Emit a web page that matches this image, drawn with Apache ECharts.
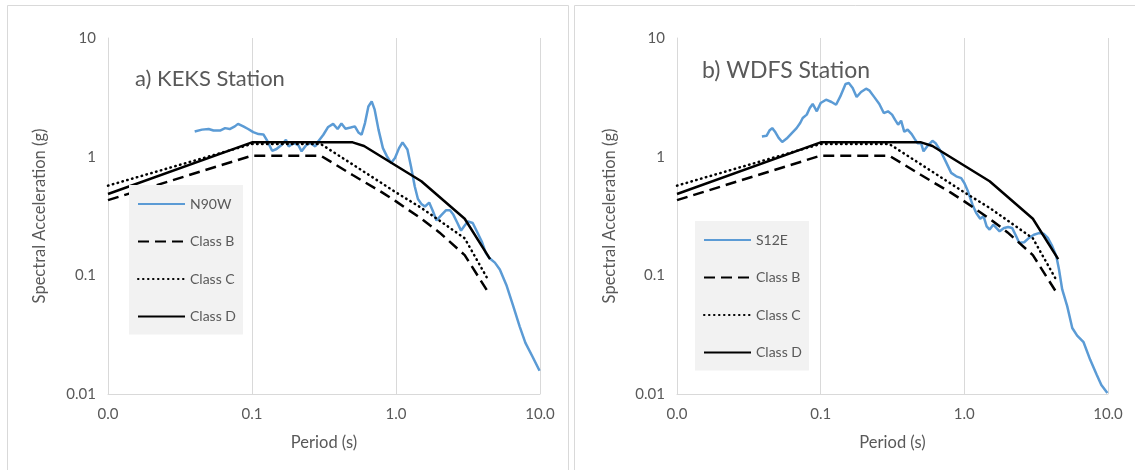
<!DOCTYPE html>
<html>
<head>
<meta charset="utf-8">
<script src="https://cdn.jsdelivr.net/npm/echarts@6/dist/echarts.min.js"></script>
<style>
html, body { margin: 0; padding: 0; background: #fff; }
#main { width: 1135px; height: 470px; }
</style>
</head>
<body>
<div id="main"></div>
<script>
var chart = echarts.init(document.getElementById('main'));

// design spectra (same for both stations)
var classBT = [0.01, 0.1, 0.3, 0.5, 0.8, 1.0, 1.5, 2.0, 3.0, 4.4];
var classBV = [0.43, 1.02, 1.02, 0.70, 0.50, 0.42, 0.30, 0.23, 0.148, 0.071];
var classCT = [0.01, 0.1, 0.3, 0.5, 1.0, 1.5, 2.0, 3.0, 4.4];
var classCV = [0.57, 1.28, 1.28, 0.86, 0.50, 0.37, 0.29, 0.205, 0.09];
var classDT = [0.01, 0.1, 0.5, 0.6, 1.5, 3.0, 4.5];
var classDV = [0.485, 1.32, 1.32, 1.23, 0.62, 0.30, 0.137];

// KEKS station, N90W record
var n90wT = [0.040, 0.045, 0.050, 0.054, 0.060, 0.065, 0.070, 0.076, 0.080, 0.087, 0.094,
    0.102, 0.111, 0.120, 0.128, 0.138, 0.148, 0.161, 0.172, 0.180, 0.193, 0.209, 0.221,
    0.239, 0.256, 0.275, 0.289, 0.313, 0.338, 0.366, 0.393, 0.418, 0.446, 0.484, 0.518,
    0.548, 0.577, 0.609, 0.643, 0.678, 0.711, 0.756, 0.811, 0.864, 0.925, 0.984, 1.05,
    1.11, 1.20, 1.27, 1.35, 1.42, 1.50, 1.59, 1.70, 1.80, 1.91, 2.08, 2.22, 2.37, 2.50,
    2.66, 2.83, 2.99, 3.16, 3.41, 3.64, 3.94, 4.21, 4.45, 4.86, 5.26, 5.84, 6.52, 7.23,
    7.92, 8.86, 9.93];
var n90wV = [1.63, 1.69, 1.71, 1.66, 1.66, 1.74, 1.71, 1.80, 1.89, 1.80, 1.71,
    1.61, 1.55, 1.54, 1.35, 1.12, 1.16, 1.26, 1.39, 1.22, 1.30, 1.26, 1.11,
    1.26, 1.30, 1.22, 1.35, 1.53, 1.78, 1.89, 1.71, 1.90, 1.72, 1.76, 1.80,
    1.60, 1.53, 1.92, 2.65, 2.92, 2.49, 1.69, 1.18, 1.01, 0.885, 0.975, 1.18,
    1.32, 1.15, 0.83, 0.56, 0.44, 0.40, 0.38, 0.41, 0.35, 0.29, 0.325, 0.353, 0.353, 0.325,
    0.279, 0.238, 0.262, 0.285, 0.276, 0.235, 0.193, 0.154, 0.140, 0.128, 0.112, 0.083, 0.055, 0.037,
    0.027, 0.0207, 0.0157];

// WDFS station, S12E record
var s12eT = [0.039, 0.042, 0.044, 0.046, 0.048, 0.051, 0.054, 0.058, 0.063, 0.068, 0.072,
    0.075, 0.080, 0.084, 0.088, 0.094, 0.100, 0.109, 0.119, 0.128, 0.137, 0.149, 0.157,
    0.167, 0.178, 0.191, 0.207, 0.219, 0.237, 0.256, 0.275, 0.294, 0.314, 0.329, 0.346,
    0.363, 0.382, 0.403, 0.430, 0.450, 0.472, 0.500, 0.520, 0.557, 0.600, 0.631, 0.688,
    0.746, 0.810, 0.878, 0.951, 1.00, 1.06, 1.14, 1.21, 1.29, 1.36, 1.43, 1.50, 1.59,
    1.67, 1.76, 1.89, 2.02, 2.15, 2.27, 2.41, 2.61, 2.82, 3.05, 3.30, 3.56, 3.81, 4.09,
    4.37, 4.56, 4.80, 5.20, 5.64, 6.10, 6.76, 7.52, 8.33, 8.99, 9.90];
var s12eV = [1.48, 1.50, 1.66, 1.74, 1.63, 1.44, 1.33, 1.42, 1.58, 1.74, 1.92,
    2.12, 2.26, 2.57, 2.78, 2.41, 2.83, 3.02, 2.89, 2.74, 3.22, 4.10, 4.17,
    3.79, 3.18, 3.51, 3.74, 3.60, 3.16, 2.78, 2.33, 2.41, 2.26, 2.05, 1.86,
    2.01, 1.62, 1.69, 1.55, 1.42, 1.30, 1.30, 1.11, 1.24, 1.36, 1.30, 1.10,
    0.90, 0.73, 0.683, 0.66, 0.60, 0.51, 0.394, 0.335, 0.30, 0.315, 0.259, 0.243, 0.267,
    0.251, 0.235, 0.251, 0.255, 0.251, 0.22, 0.188, 0.19, 0.207, 0.22, 0.227, 0.224, 0.207, 0.176,
    0.145, 0.112, 0.076, 0.055, 0.036, 0.031, 0.0273, 0.0194, 0.0146, 0.0119, 0.0102];

function pairs(t, v) {
    return t.map(function (x, i) { return [x, v[i]]; });
}

var font = 'Lato, "Open Sans", sans-serif';
var grey = '#595959';
var gridGrey = '#d9d9d9';
var blue = '#5b9bd5';

function xAxisFor(gi) {
    return {
        type: 'log', logBase: 10, min: 0.01, max: 10, gridIndex: gi,
        name: 'Period (s)', nameLocation: 'middle', nameGap: 40,
        nameTextStyle: { color: grey, fontSize: 16.5, fontFamily: font },
        axisLine: { lineStyle: { color: gridGrey } },
        axisTick: { show: false },
        axisLabel: {
            color: grey, fontSize: 15, fontFamily: font, margin: 13,
            formatter: function (v) { return v.toFixed(1); }
        },
        splitLine: { show: true, lineStyle: { color: gridGrey, width: 1 } }
    };
}

function yAxisFor(gi, gap) {
    return {
        type: 'log', logBase: 10, min: 0.01, max: 10, gridIndex: gi,
        name: 'Spectral Acceleration (g)', nameLocation: 'middle', nameGap: gap,
        nameTextStyle: { color: grey, fontSize: 16.5, fontFamily: font },
        axisLine: { show: true, lineStyle: { color: gridGrey } },
        axisTick: { show: false },
        axisLabel: {
            color: grey, fontSize: 15, fontFamily: font, margin: 12,
            formatter: function (v) { return String(Number(v.toPrecision(2))); }
        },
        splitLine: { show: false }
    };
}

function classSeries(gi) {
    return [{
        name: 'Class B', type: 'line', xAxisIndex: gi, yAxisIndex: gi,
        symbol: 'none', data: pairs(classBT, classBV),
        lineStyle: { color: '#000', width: 2.5, type: [11, 6] },
        itemStyle: { color: '#000' }
    }, {
        name: 'Class C', type: 'line', xAxisIndex: gi, yAxisIndex: gi,
        symbol: 'none', data: pairs(classCT, classCV),
        lineStyle: { color: '#000', width: 2.5, type: [0.5, 4.5], cap: 'round' },
        itemStyle: { color: '#000' }
    }, {
        name: 'Class D', type: 'line', xAxisIndex: gi, yAxisIndex: gi,
        symbol: 'none', data: pairs(classDT, classDV),
        lineStyle: { color: '#000', width: 2.5 },
        itemStyle: { color: '#000' }
    }];
}

function legendFor(left, top, first) {
    return {
        orient: 'vertical', left: left, top: top,
        backgroundColor: '#f2f2f2', borderRadius: 0,
        padding: [12, 7, 11, 8],
        itemWidth: 47, itemHeight: 14, itemGap: 23.5,
        selectedMode: false,
        itemStyle: { opacity: 0 },
        textStyle: { color: grey, fontSize: 14, fontFamily: font },
        data: [first, 'Class B', 'Class C', 'Class D']
    };
}

var option = {
    animation: false,
    backgroundColor: '#fff',
    title: [{
        text: 'a) KEKS Station', left: 135, top: 68, padding: 0,
        textStyle: { color: grey, fontSize: 22, fontWeight: 'normal', fontFamily: font }
    }, {
        text: 'b) WDFS Station', left: 702, top: 59, padding: 0,
        textStyle: { color: grey, fontSize: 23, fontWeight: 'normal', fontFamily: font }
    }],
    legend: [legendFor(129, 185, 'N90W'), legendFor(695, 221, 'S12E')],
    grid: [
        { left: 108, top: 38, width: 432, height: 356 },
        { left: 677, top: 38, width: 431, height: 356 }
    ],
    xAxis: [xAxisFor(0), xAxisFor(1)],
    yAxis: [yAxisFor(0, 60), yAxisFor(1, 59)],
    graphic: [{
        type: 'rect', shape: { x: 7.5, y: 5.5, width: 561, height: 480 },
        style: { fill: null, stroke: gridGrey, lineWidth: 1 }, silent: true
    }, {
        type: 'rect', shape: { x: 574.5, y: 5.5, width: 580, height: 480 },
        style: { fill: null, stroke: gridGrey, lineWidth: 1 }, silent: true
    }],
    series: [{
        name: 'N90W', type: 'line', xAxisIndex: 0, yAxisIndex: 0,
        symbol: 'none', data: pairs(n90wT, n90wV),
        lineStyle: { color: blue, width: 2.5 }, itemStyle: { color: blue }
    }].concat(classSeries(0), [{
        name: 'S12E', type: 'line', xAxisIndex: 1, yAxisIndex: 1,
        symbol: 'none', data: pairs(s12eT, s12eV),
        lineStyle: { color: blue, width: 2.5 }, itemStyle: { color: blue }
    }], classSeries(1))
};

chart.setOption(option);
</script>
</body>
</html>
